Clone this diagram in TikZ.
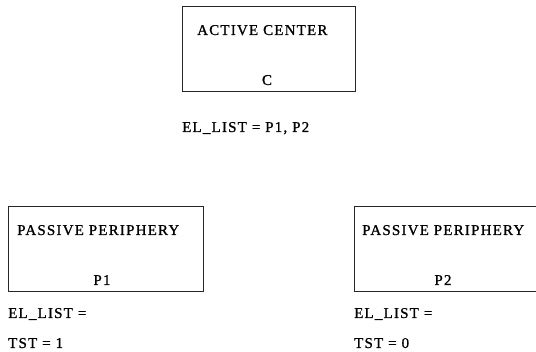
\documentclass[tikz,border=0pt]{standalone}
\usepackage{fontspec}
\setmainfont{Liberation Serif}
\newfontfamily\spacedserif[LetterSpace=8,FakeBold=1]{Liberation Serif}
\begin{document}
\begin{tikzpicture}[x=1pt,y=-1pt,
  boxstyle/.style={draw=black!85,line width=0.9pt,inner sep=0pt},
  txt/.style={font=\spacedserif\fontsize{15}{17}\selectfont,inner sep=0pt,text=black}]
\useasboundingbox (0,0) rectangle (536,352);
\clip (0,0) rectangle (536,352);
% active center
\draw[boxstyle] (182,6) rectangle (355,91);
\node[txt,anchor=base west] (ctitle) at (197,35) {ACTIVE CENTER};
\node[txt,anchor=base] (cname) at (267,85) {C};
\node[txt,anchor=base west] (clist) at (182,132) {EL\_LIST = P1, P2};
% P1
\draw[boxstyle] (8,206) rectangle (203,291);
\node[txt,anchor=base west] (p1title) at (17,235) {PASSIVE PERIPHERY};
\node[txt,anchor=base] (p1name) at (102,285) {P1};
\node[txt,anchor=base west] (p1list) at (8,318) {EL\_LIST =};
\node[txt,anchor=base west] (p1tst) at (8,348) {TST = 1};
% P2
\draw[boxstyle] (354,206) rectangle (545,291);
\node[txt,anchor=base west] (p2title) at (362,235) {PASSIVE PERIPHERY};
\node[txt,anchor=base] (p2name) at (443,285) {P2};
\node[txt,anchor=base west] (p2list) at (354,318) {EL\_LIST =};
\node[txt,anchor=base west] (p2tst) at (354,348) {TST = 0};
\end{tikzpicture}
\end{document}
